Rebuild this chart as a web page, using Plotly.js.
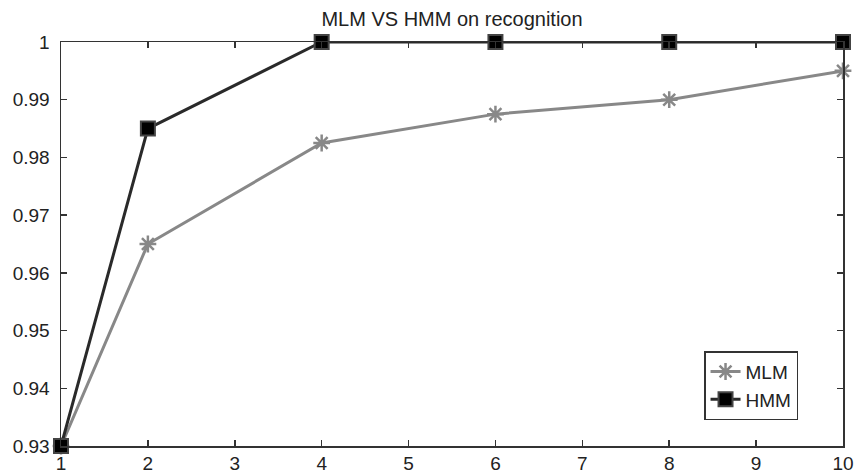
<!DOCTYPE html>
<html><head><meta charset="utf-8">
<script src="https://cdn.plot.ly/plotly-3.0.1.min.js"></script>
<style>body{margin:0;padding:0;background:#fff}#chart{width:855px;height:475px}</style>
</head><body><div id="chart"></div>
<script>
const xValues = [1, 2, 4, 6, 8, 10];
const mlmValues = [0.93, 0.965, 0.9825, 0.9875, 0.990, 0.995];
const hmmValues = [0.93, 0.985, 1.0, 1.0, 1.0, 1.0];
const seriesNames = ["MLM", "HMM"];
const chartTitle = "MLM VS HMM on recognition";

const traces = [
  {x: xValues, y: mlmValues, name: seriesNames[0], type: "scatter", mode: "lines+markers",
   line: {color: "#888888", width: 3},
   marker: {symbol: "asterisk-open", size: 14, color: "#888888", line: {color: "#888888", width: 2.5}},
   cliponaxis: false},
  {x: xValues, y: hmmValues, name: seriesNames[1], type: "scatter", mode: "lines+markers",
   line: {color: "#2a2a2a", width: 3},
   marker: {symbol: "square", size: 14, color: "#000000", line: {color: "#444444", width: 2}},
   cliponaxis: false}
];

const layout = {
  width: 855, height: 475,
  margin: {l: 61, r: 12, t: 42, b: 29},
  paper_bgcolor: "#ffffff", plot_bgcolor: "#ffffff",
  font: {family: "Liberation Sans, Arial, sans-serif", size: 19, color: "#222"},
  title: {text: chartTitle, xref: "paper", x: 0.5, xanchor: "center",
          yref: "container", y: 0.975, yanchor: "top",
          font: {size: 20, color: "#222"}},
  showlegend: true,
  legend: {x: 0.9425, xanchor: "right", y: 0.064, yanchor: "bottom",
           bordercolor: "#333", borderwidth: 1.5, bgcolor: "#fff",
           font: {size: 19}, tracegroupgap: 0, entrywidth: 125, entrywidthmode: "pixels"},
  xaxis: {range: [1, 10], tickvals: [1,2,3,4,5,6,7,8,9,10], ticks: "inside", ticklen: 6,
          tickwidth: 1.5, tickcolor: "#333", showline: true, linecolor: "#333", linewidth: 1.5,
          mirror: "ticks", showgrid: false, zeroline: false, tickfont: {size: 19}},
  yaxis: {range: [0.93, 1.0], tickvals: [0.93,0.94,0.95,0.96,0.97,0.98,0.99,1.0],
          ticktext: ["0.93","0.94","0.95","0.96","0.97","0.98","0.99","1"],
          ticks: "inside", ticklen: 6, tickwidth: 1.5, tickcolor: "#333", showline: true,
          linecolor: "#333", linewidth: 1.5, mirror: "ticks", showgrid: false, zeroline: false,
          ticklabelstandoff: 6, tickfont: {size: 19}}
};
Plotly.newPlot("chart", traces, layout, {displayModeBar: false, staticPlot: true});
</script></body></html>
